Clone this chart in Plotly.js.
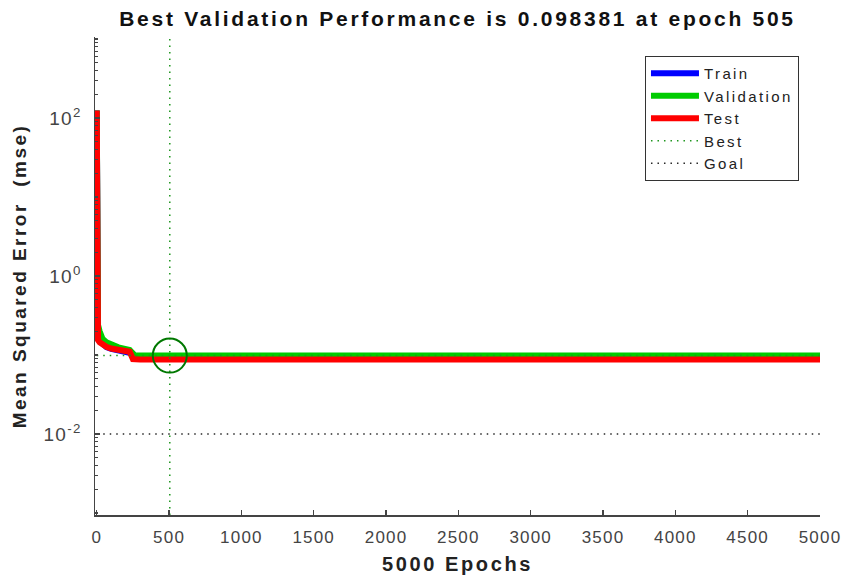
<!DOCTYPE html>
<html>
<head>
<meta charset="utf-8">
<script src="https://cdn.plot.ly/plotly-3.0.1.min.js"></script>
<style>
  html, body { margin: 0; padding: 0; background: #fff; }
  #chart { width: 848px; height: 583px; }
  /* wide, MATLAB-like lettering */
  text.gtitle, text.xtitle, text.ytitle { letter-spacing: 0.13em; }
  text.legendtext { letter-spacing: 0.16em; }
  .xtick text, .ytick text { letter-spacing: 0.07em; }
</style>
</head>
<body>
<div id="chart"></div>
<script>
// Training record of the network (mean squared error per epoch)
const epochs      = [0, 2, 5, 9, 20, 40, 67, 100, 150, 228, 250, 263, 300, 505, 1000, 2000, 3000, 4000, 5000];
const trainPerf   = [124, 40, 0.27, 0.16, 0.15, 0.138, 0.126, 0.12, 0.116, 0.11, 0.104, 0.096, 0.095, 0.096, 0.095, 0.095, 0.095, 0.095, 0.095];
const valPerf     = [124, 40, 0.27, 0.24, 0.2, 0.16, 0.145, 0.135, 0.125, 0.116, 0.108, 0.0985, 0.09838, 0.098381, 0.09838, 0.09838, 0.09838, 0.09838, 0.09838];
const testPerf    = [124, 40, 0.26, 0.155, 0.145, 0.135, 0.127, 0.121, 0.116, 0.110, 0.089, 0.088, 0.088, 0.088, 0.088, 0.088, 0.088, 0.088, 0.088];

const bestEpoch = 505;
const bestPerf  = 0.098381;
const goalPerf  = 0.01;
const maxEpoch  = 5000;

const xTicks = [0, 500, 1000, 1500, 2000, 2500, 3000, 3500, 4000, 4500, 5000];
const yTickExponents = [-2, 0, 2];
const yLogRange = [-3.025, 3.025];

const font = 'Liberation Sans, Arial, Helvetica, sans-serif';
const yLo = Math.pow(10, yLogRange[0]);
const yHi = Math.pow(10, yLogRange[1]);

const traces = [
  { name: 'Train', x: epochs, y: trainPerf, mode: 'lines',
    line: { color: 'rgb(0,0,255)', width: 6 } },
  { name: 'Validation', x: epochs, y: valPerf, mode: 'lines',
    line: { color: 'rgb(0,204,0)', width: 6 } },
  { name: 'Test', x: epochs, y: testPerf, mode: 'lines',
    line: { color: 'rgb(255,0,0)', width: 6 } },
  { name: 'Best', mode: 'lines',
    x: [bestEpoch, bestEpoch, null, 0, maxEpoch],
    y: [yLo, yHi, null, bestPerf, bestPerf],
    line: { color: 'rgb(30,150,30)', width: 1.5, dash: '1.5px,5px' } },
  { name: 'Goal', mode: 'lines',
    x: [0, maxEpoch], y: [goalPerf, goalPerf],
    line: { color: 'rgb(40,40,40)', width: 1.5, dash: '1.5px,5px' } },
  { name: 'best point', showlegend: false, mode: 'markers',
    x: [bestEpoch], y: [bestPerf],
    marker: { symbol: 'circle-open', size: 34, color: 'rgb(0,120,0)',
              line: { width: 2, color: 'rgb(0,120,0)' } } }
];

const layout = {
  width: 848, height: 583,
  margin: { l: 95, r: 28, t: 37, b: 68 },
  paper_bgcolor: '#fff', plot_bgcolor: '#fff',
  font: { family: font, color: '#444' },
  showlegend: true,
  title: {
    text: '<b>Best Validation Performance is ' + bestPerf + ' at epoch ' + bestEpoch + '</b>',
    font: { family: font, size: 21, color: '#111' },
    x: 0.5, xanchor: 'center', xref: 'paper', y: 0.968, yanchor: 'middle'
  },
  xaxis: {
    range: [-12, maxEpoch],
    tickvals: xTicks,
    ticks: 'inside', ticklen: 5, tickwidth: 1.2, tickcolor: '#444',
    showline: true, linecolor: '#444', linewidth: 1.5, mirror: false,
    showgrid: false, zeroline: false,
    tickfont: { family: font, size: 17, color: '#444' },
    ticklabelstandoff: 6,
    title: { text: '<b>' + maxEpoch + ' Epochs</b>', standoff: 11,
             font: { family: font, size: 20, color: '#222' } }
  },
  yaxis: {
    type: 'log',
    range: yLogRange,
    tickvals: yTickExponents.map(e => Math.pow(10, e)),
    ticktext: yTickExponents.map(e => '10<sup>' + (e < 0 ? '-' : '') + Math.abs(e) + '</sup>'),
    ticks: 'inside', ticklen: 5, tickwidth: 1.2, tickcolor: '#444',
    minor: { ticks: 'inside', ticklen: 3, dtick: 'D1', tickcolor: '#444', showgrid: false },
    showline: true, linecolor: '#444', linewidth: 1.5, mirror: false,
    showgrid: false, zeroline: false,
    tickfont: { family: font, size: 19, color: '#444' },
    ticklabelstandoff: 8,
    title: { text: '<b>Mean Squared Error  (mse)</b>', standoff: 12,
             font: { family: font, size: 19, color: '#222' } }
  },
  legend: {
    x: 0.971, xanchor: 'right', y: 0.96, yanchor: 'top',
    bgcolor: '#fff', bordercolor: '#333', borderwidth: 1,
    font: { family: font, size: 15, color: '#222' },
    itemwidth: 48, tracegroupgap: 0
  }
};

Plotly.newPlot('chart', traces, layout, { staticPlot: true, displayModeBar: false });
</script>
</body>
</html>
